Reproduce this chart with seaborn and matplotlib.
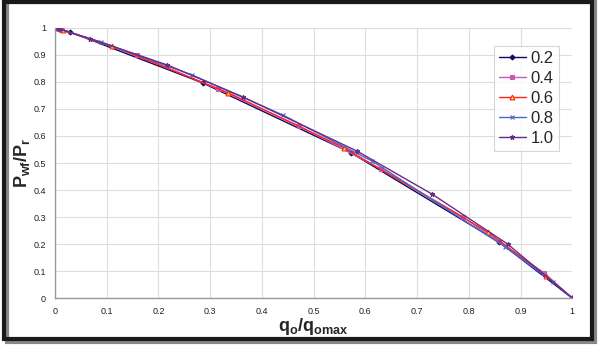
import matplotlib
matplotlib.use("Agg")
import matplotlib.pyplot as plt
import seaborn as sns
from matplotlib.patches import Rectangle

sns.set_style("white")
plt.rcParams["font.family"] = ["Liberation Sans", "DejaVu Sans"]
plt.rcParams["mathtext.fontset"] = "custom"
plt.rcParams["mathtext.bf"] = "Liberation Sans:bold"
plt.rcParams["mathtext.rm"] = "Liberation Sans"

labels = ["0.2", "0.4", "0.6", "0.8", "1.0"]

x_02 = [0.0, 0.029, 0.286, 0.573, 0.859, 1.0]
y_02 = [1.0, 0.985, 0.796, 0.537, 0.207, 0.0]

x_04 = [0.0, 0.012, 0.159, 0.315, 0.472, 0.63, 0.789, 0.946, 1.0]
y_04 = [1.0, 0.993, 0.9, 0.774, 0.637, 0.478, 0.30, 0.093, 0.0]

x_06 = [0.0, 0.015, 0.11, 0.335, 0.559, 0.837, 0.95, 1.0]
y_06 = [1.0, 0.992, 0.933, 0.76, 0.556, 0.244, 0.081, 0.0]

x_08 = [0.0, 0.01, 0.089, 0.265, 0.44, 0.613, 0.87, 0.963, 1.0]
y_08 = [1.0, 0.995, 0.948, 0.826, 0.678, 0.507, 0.19, 0.06, 0.0]

x_10 = [0.0, 0.008, 0.068, 0.217, 0.364, 0.584, 0.729, 0.875, 1.0]
y_10 = [1.0, 0.996, 0.96, 0.863, 0.744, 0.544, 0.385, 0.20, 0.0]

series = [(x_02, y_02), (x_04, y_04), (x_06, y_06), (x_08, y_08), (x_10, y_10)]
colors = ["#0a0a5e", "#c65bb0", "#ff2020", "#4a68c8", "#6a2a8a"]
markers = ["D", "s", "^", "x", "*"]
faces = ["#0a0a5e", "#c65bb0", "#ffee00", "#4a68c8", "#6a2a8a"]
msizes = [2.5, 3.5, 3.5, 3.5, 3.5]

fig = plt.figure(figsize=(6, 3.45), dpi=100)
ax = fig.add_axes([0.0917, 0.136, 0.862, 0.783])

for (xs, ys), lab, c, m, fc, ms in zip(series, labels, colors, markers, faces, msizes):
    sns.lineplot(
        x=xs,
        y=ys,
        ax=ax,
        color=c,
        marker=m,
        markerfacecolor=fc,
        markeredgecolor=c,
        markersize=ms,
        markeredgewidth=0.8,
        linewidth=1.0,
        label=lab,
        sort=False,
        estimator=None,
    )

ax.set_xlim(0, 1)
ax.set_ylim(0, 1)
ax.set_xticks([i / 10 for i in range(11)])
ax.set_yticks([i / 10 for i in range(11)])
ax.set_xticklabels(["0", "0.1", "0.2", "0.3", "0.4", "0.5", "0.6", "0.7", "0.8", "0.9", "1"])
ax.set_yticklabels(["0", "0.1", "0.2", "0.3", "0.4", "0.5", "0.6", "0.7", "0.8", "0.9", "1"])
ax.tick_params(labelsize=6.5, length=3, width=0.6, direction="out",
               colors="#888888", labelcolor="#222222")
ax.grid(True, color="#dddddd", linewidth=0.8)
ax.set_axisbelow(True)
for s in ["top", "right"]:
    ax.spines[s].set_visible(False)
for s in ["left", "bottom"]:
    ax.spines[s].set_color("#999999")
    ax.spines[s].set_linewidth(1.0)

ax.set_xlabel(r"$\mathbf{q_o/q_{omax}}$", fontsize=13)
ax.set_ylabel(r"$\mathbf{P_{wf}/P_r}$", fontsize=13)
ax.xaxis.set_label_coords(0.5, -0.068)
ax.yaxis.set_label_coords(-0.064, 0.5)
ax.xaxis.label.set_va("top")
ax.yaxis.label.set_va("center")

leg = ax.legend(
    loc="upper right",
    bbox_to_anchor=(0.99, 0.965),
    fontsize=12,
    frameon=True,
    fancybox=False,
    handlelength=1.6,
    handletextpad=0.3,
    labelspacing=0.3,
    borderpad=0.3,
)
leg.get_frame().set_edgecolor("#cccccc")
leg.get_frame().set_linewidth(0.8)

# outer frame with shadow
fig.patches.append(Rectangle((0.012, 0.008), 0.98, 0.985, transform=fig.transFigure,
                             fill=False, edgecolor="#888888", linewidth=3))
fig.patches.append(Rectangle((0.006, 0.018), 0.98, 0.975, transform=fig.transFigure,
                             fill=False, edgecolor="#1a1a1a", linewidth=3))

fig.savefig("out.png", dpi=100)
